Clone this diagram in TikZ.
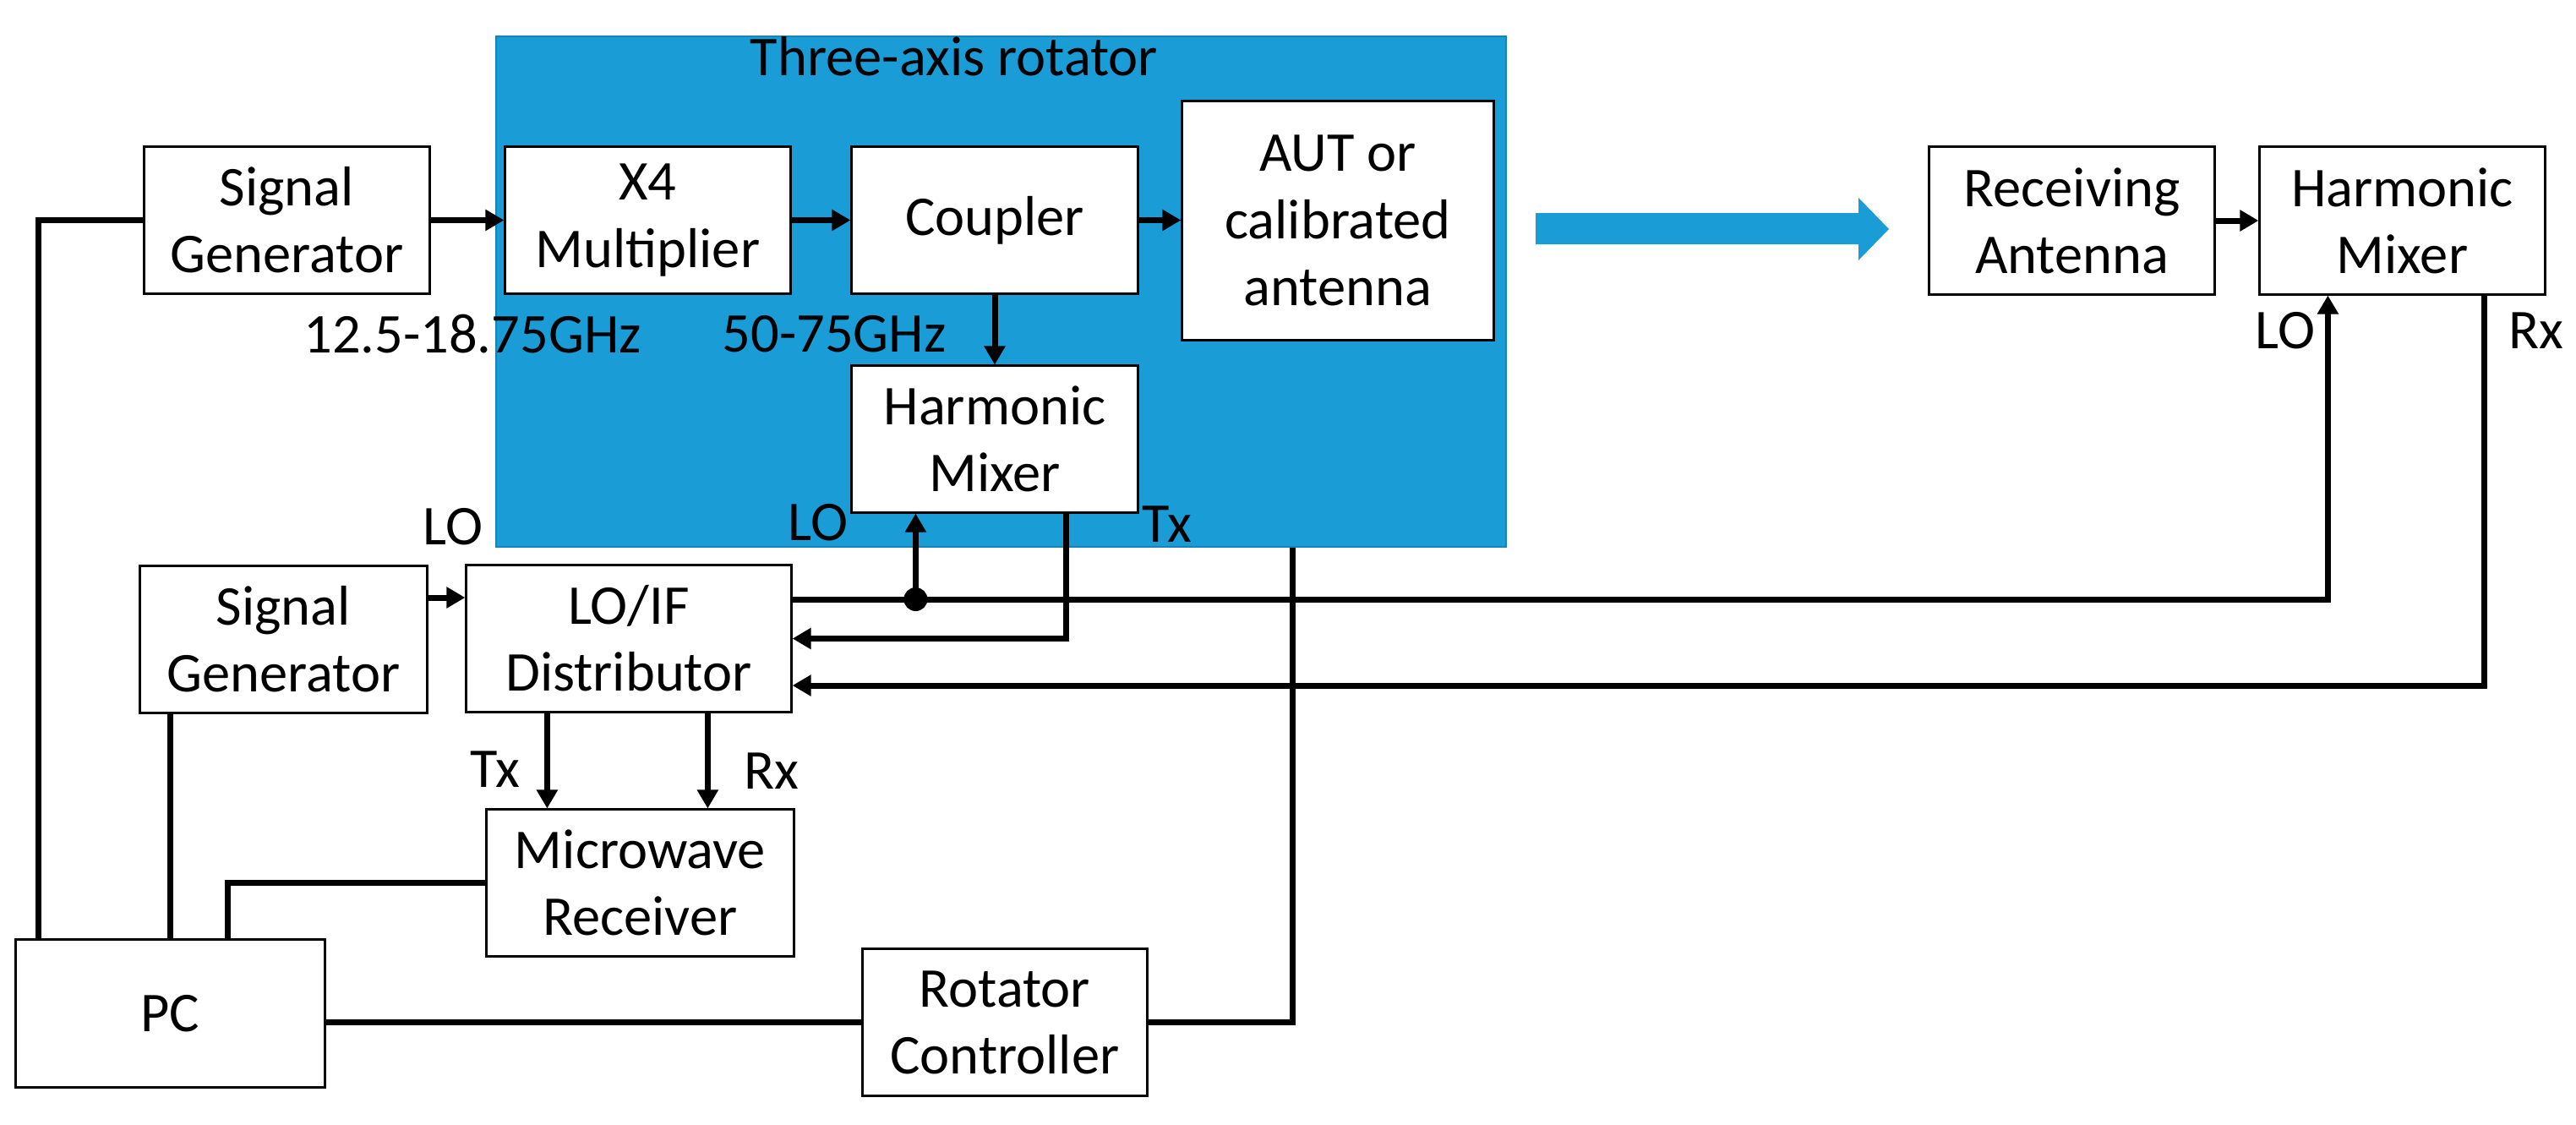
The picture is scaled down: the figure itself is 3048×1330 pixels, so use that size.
\documentclass[tikz,border=0pt]{standalone}
\usepackage{fontspec}
\setmainfont{Carlito}
\usetikzlibrary{arrows.meta,calc}
\definecolor{rotblue}{RGB}{26,156,214}
\begin{document}
\begin{tikzpicture}[x=0.01cm,y=-0.01cm,
  box/.style={draw=black, line width=0.03cm, fill=white, align=center, inner sep=0pt,
    minimum height=1.73cm, font=\fontsize{18.9}{22.5}\selectfont},
  wire/.style={line width=0.07cm},
  arr/.style={wire, -{Triangle[length=0.22cm,width=0.24cm]}},
  lbl/.style={font=\fontsize{18.9}{22.5}\selectfont, inner sep=0pt}]
\useasboundingbox (0,0) rectangle (3048,1330);
% rotator area
\node[draw=rotblue!85!black, fill=rotblue, line width=0.02cm, inner sep=0pt,
  minimum width=11.95cm, minimum height=6.04cm] (rot) at (1184.5,345) {};
\node[lbl] (tlab) at (1129,67) {Three-axis rotator};
% wave arrow
\fill[rotblue] (1817,252) -- (2199,252) -- (2199,234) -- (2235,271) -- (2199,308) -- (2199,289) -- (1817,289) -- cycle;
% boxes
\node[box, minimum width=3.37cm] (sg1) at (339.5,260.5) {Signal\\Generator};
\node[box, minimum width=3.37cm] (mult) at (766.5,260.5) {X4\\Multiplier};
\node[box, minimum width=3.38cm] (coupler) at (1177,260.5) {Coupler};
\node[box, minimum width=3.68cm, minimum height=2.82cm] (aut) at (1583,261) {AUT or\\calibrated\\antenna};
\node[box, minimum width=3.38cm] (hmix1) at (1177,519.5) {Harmonic\\Mixer};
\node[box, minimum width=3.37cm, minimum height=1.74cm] (recv) at (2451.5,261) {Receiving\\Antenna};
\node[box, minimum width=3.37cm, minimum height=1.74cm] (hmix2) at (2842.5,261) {Harmonic\\Mixer};
\node[box, minimum width=3.39cm] (sg2) at (335.5,756.5) {Signal\\Generator};
\node[box, minimum width=3.84cm] (lofi) at (744,755.5) {LO/IF\\Distributor};
\node[box, minimum width=3.63cm] (mwr) at (757.5,1044.5) {Microwave\\Receiver};
\node[box, minimum width=3.65cm, minimum height=1.74cm] (pc) at (201.5,1199) {PC};
\node[box, minimum width=3.36cm] (rotc) at (1189,1209.5) {Rotator\\Controller};
% labels
\node[lbl] (f1) at (559,395) {12.5-18.75GHz};
\node[lbl] (f2) at (987,395) {50-75GHz};
\node[lbl] (lo0) at (536,623) {LO};
\node[lbl] (lo1l) at (968,618) {LO};
\node[lbl] (tx1) at (1381,620) {Tx};
\node[lbl] (lo2) at (2704,391) {LO};
\node[lbl] (rx2) at (3001,391) {Rx};
\node[lbl] (tx3) at (586,910) {Tx};
\node[lbl] (rx3) at (913,912) {Rx};
% connectors
\draw[wire] ($(pc.north west)+(28,0)$) |- (sg1.west);
\draw[arr] (sg1) -- (mult);
\draw[arr] (mult) -- (coupler);
\draw[arr] (coupler.east) -- (coupler.east -| aut.west);
\draw[arr] (coupler) -- (hmix1);
\draw[arr] (recv.east) -- (recv.east -| hmix2.west);
\coordinate (sgo) at ($(sg2.east)+(0,-49.5)$);
\draw[arr] (sgo) -- (sgo -| lofi.west);
\coordinate (lo1) at ($(lofi.east)+(0,-46.5)$);
\draw[arr] (lo1) -| ($(hmix2.south west)+(82,0)$);
\coordinate (lotap) at ($(hmix1.south west)+(77,0)$);
\draw[arr] (lotap |- lo1) -- (lotap);
\fill (lotap |- lo1) circle (0.14cm);
\coordinate (txo) at ($(hmix1.south west)+(255,0)$);
\draw[arr] (txo) |- (lofi.east);
\coordinate (rxo) at ($(hmix2.south west)+(267,0)$);
\draw[arr] (rxo) |- ($(lofi.east)+(0,55.5)$);
\coordinate (ltx) at ($(lofi.south west)+(97,0)$);
\draw[arr] (ltx) -- (ltx |- mwr.north);
\coordinate (lrx) at ($(lofi.south west)+(287,0)$);
\draw[arr] (lrx) -- (lrx |- mwr.north);
\coordinate (sgd) at ($(sg2.south west)+(37,0)$);
\draw[wire] (sgd) -- (sgd |- pc.north);
\draw[wire] (mwr.west) -| ($(pc.north west)+(252,0)$);
\draw[wire] (rotc.west) -- (rotc.west -| pc.east);
\draw[wire] (rotc.east) -| ($(rot.south west)+(944,0)$);
\end{tikzpicture}
\end{document}
